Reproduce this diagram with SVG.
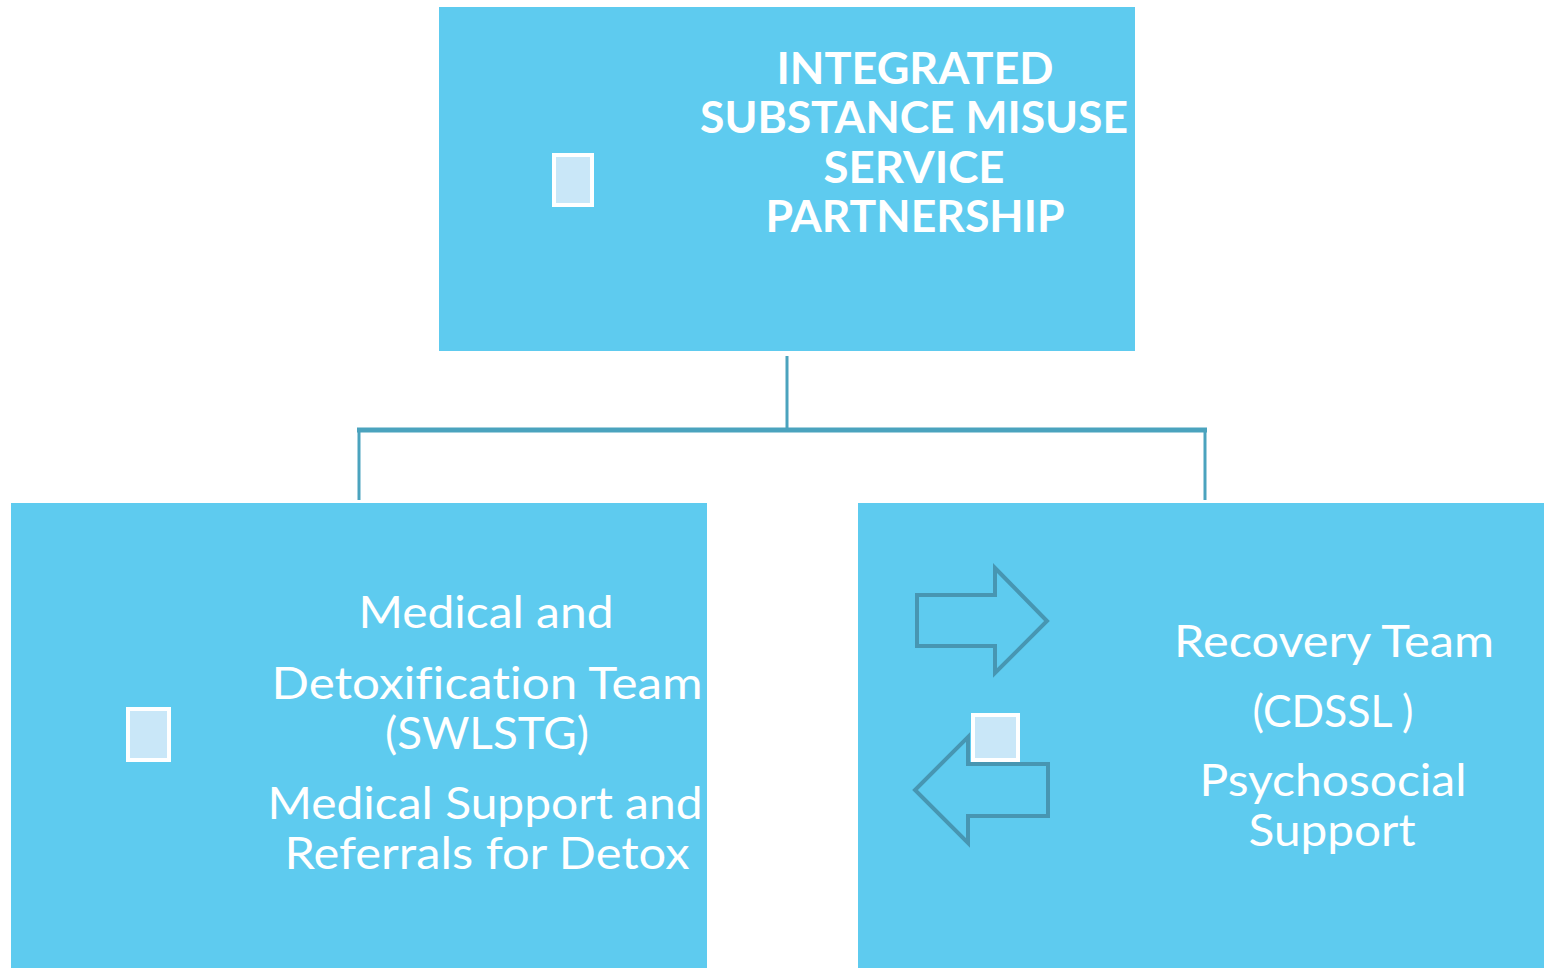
<svg xmlns="http://www.w3.org/2000/svg" width="1544" height="968" viewBox="0 0 1544 968">
<style>
.box{fill:#5ECBEF}
.sq{fill:#C9E7F8;stroke:#FFFFFF;stroke-width:4}
.t{font-family:Lato,"Open Sans",sans-serif;fill:#FFFFFF;text-anchor:middle;font-size:44px;font-variant-ligatures:none;font-feature-settings:"liga" 0}
.b{font-weight:bold}
.arr{fill:none;stroke:#4796B2;stroke-width:4;stroke-linejoin:miter}
.con{stroke:#4BA3BE;fill:none}
</style>
<rect width="1544" height="968" fill="#FFFFFF"/>
<g id="connectors">
<line class="con" x1="787" y1="356" x2="787" y2="430" stroke-width="3"/>
<line class="con" x1="357" y1="430" x2="1207" y2="430" stroke-width="5"/>
<line class="con" x1="359" y1="428" x2="359" y2="500" stroke-width="3"/>
<line class="con" x1="1205" y1="428" x2="1205" y2="500" stroke-width="3"/>
</g>
<g id="node-top">
<rect class="box" x="439" y="7" width="696" height="344"/>
<rect class="sq" x="554" y="155" width="38" height="50"/>
<text class="t b" x="915" y="84" textLength="277" lengthAdjust="spacingAndGlyphs">INTEGRATED</text>
<text class="t b" x="914" y="133" textLength="428" lengthAdjust="spacingAndGlyphs">SUBSTANCE MISUSE</text>
<text class="t b" x="914" y="183" textLength="181" lengthAdjust="spacingAndGlyphs">SERVICE</text>
<text class="t b" x="915" y="232" textLength="299" lengthAdjust="spacingAndGlyphs">PARTNERSHIP</text>
</g>
<g id="node-left">
<rect class="box" x="11" y="503" width="696" height="465"/>
<rect class="sq" x="128" y="709" width="41" height="51"/>
<text class="t" x="486" y="628" textLength="255" lengthAdjust="spacingAndGlyphs">Medical and</text>
<text class="t" x="487" y="699" textLength="431" lengthAdjust="spacingAndGlyphs">Detoxification Team</text>
<text class="t" x="487" y="749" textLength="204" lengthAdjust="spacingAndGlyphs">(SWLSTG)</text>
<text class="t" x="485" y="819" textLength="435" lengthAdjust="spacingAndGlyphs">Medical Support and</text>
<text class="t" x="487" y="869" textLength="405" lengthAdjust="spacingAndGlyphs">Referrals for Detox</text>
</g>
<g id="node-right">
<rect class="box" x="858" y="503" width="686" height="465"/>
<path class="arr" d="M917,595 L995,595 L995,568 L1047,621 L995,673 L995,646 L917,646 Z"/>
<path class="arr" d="M1048,764 L968,764 L968,737 L915,790 L968,843 L968,816 L1048,816 Z"/>
<rect class="sq" x="973" y="715" width="45" height="45"/>
<text class="t" x="1334" y="657" textLength="320" lengthAdjust="spacingAndGlyphs">Recovery Team</text>
<text class="t" x="1333" y="727" textLength="161" lengthAdjust="spacingAndGlyphs">(CDSSL )</text>
<text class="t" x="1333" y="796" textLength="267" lengthAdjust="spacingAndGlyphs">Psychosocial</text>
<text class="t" x="1332" y="846" textLength="167" lengthAdjust="spacingAndGlyphs">Support</text>
</g>
</svg>
